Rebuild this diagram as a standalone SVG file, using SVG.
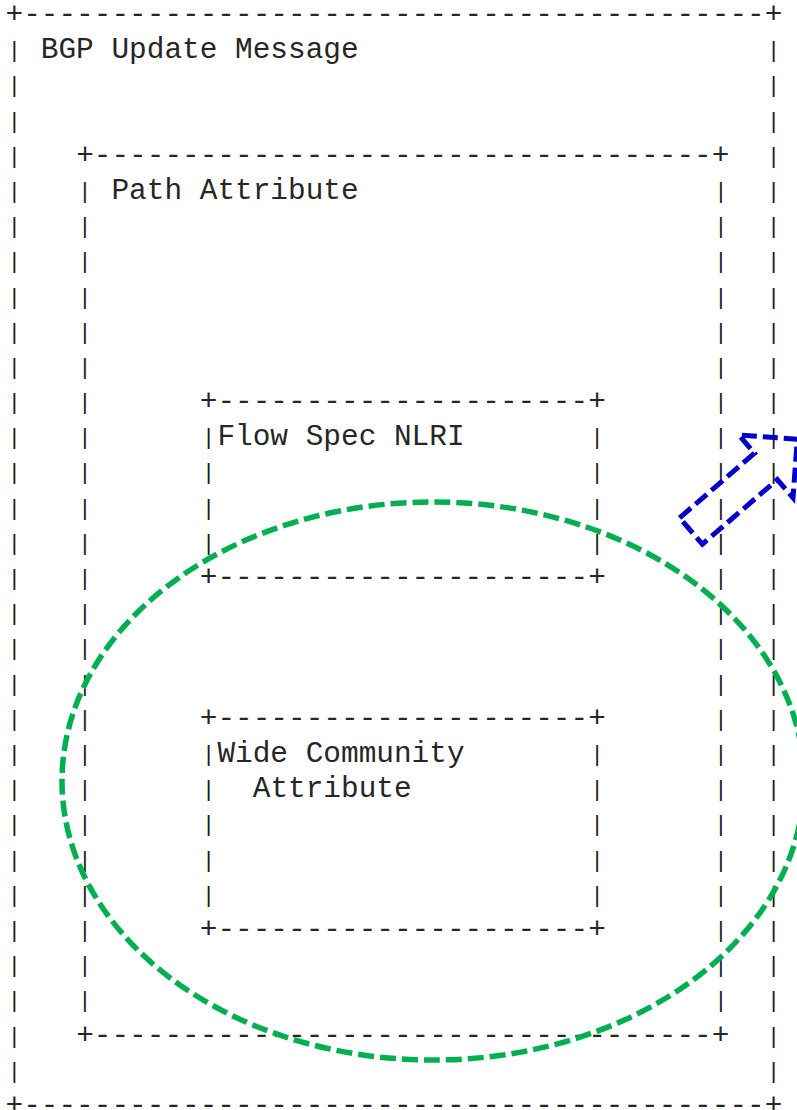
<svg xmlns="http://www.w3.org/2000/svg" width="797" height="1110" viewBox="0 0 797 1110">
  <style>
    .t { font-family: "Liberation Mono", "Courier New", monospace; font-size: 29.43px; fill: #262626; }
    .bar { font-family: "Liberation Mono", "Courier New", monospace; font-size: 22px; fill: #1a1a1a; }
    .ring { fill: none; stroke: #00b050; stroke-width: 5.5; stroke-dasharray: 16 6; }
    .arrow { fill: none; stroke: #0000cc; stroke-width: 5; stroke-dasharray: 15 6; stroke-linejoin: miter; }
  </style>
  <rect width="797" height="1110" fill="#ffffff"/>

  <!-- Outer box: columns 0..43, text rows 0..31 (17.66px cells, 35.19px rows).
       Side bars use a smaller size so each "|" is short, with gaps between rows. -->
  <g id="bgp-update-message">
    <text class="t" x="5.5" y="23.1">+------------------------------------------+</text>
    <text class="t" x="40.82" y="58.29">BGP Update Message</text>
    <text class="bar" x="7.73 7.73 7.73 7.73 7.73 7.73 7.73 7.73 7.73 7.73 7.73 7.73 7.73 7.73 7.73 7.73 7.73 7.73 7.73 7.73 7.73 7.73 7.73 7.73 7.73 7.73 7.73 7.73 7.73 7.73" y="57.19 92.38 127.57 162.76 197.95 233.14 268.33 303.52 338.71 373.9 409.09 444.28 479.47 514.66 549.85 585.04 620.23 655.42 690.61 725.8 760.99 796.18 831.37 866.56 901.75 936.94 972.13 1007.32 1042.51 1077.7">||||||||||||||||||||||||||||||</text>
    <text class="bar" x="767.11 767.11 767.11 767.11 767.11 767.11 767.11 767.11 767.11 767.11 767.11 767.11 767.11 767.11 767.11 767.11 767.11 767.11 767.11 767.11 767.11 767.11 767.11 767.11 767.11 767.11 767.11 767.11 767.11 767.11" y="57.19 92.38 127.57 162.76 197.95 233.14 268.33 303.52 338.71 373.9 409.09 444.28 479.47 514.66 549.85 585.04 620.23 655.42 690.61 725.8 760.99 796.18 831.37 866.56 901.75 936.94 972.13 1007.32 1042.51 1077.7">||||||||||||||||||||||||||||||</text>
    <text class="t" x="5.5" y="1113.5">+------------------------------------------+</text>
  </g>

  <!-- Path Attribute box: columns 4..40, rows 4..29 -->
  <g id="path-attribute">
    <text class="t" x="76.14" y="163.86">+-----------------------------------+</text>
    <text class="t" x="111.46" y="199.05">Path Attribute</text>
    <text class="bar" x="78.37 78.37 78.37 78.37 78.37 78.37 78.37 78.37 78.37 78.37 78.37 78.37 78.37 78.37 78.37 78.37 78.37 78.37 78.37 78.37 78.37 78.37 78.37 78.37" y="197.95 233.14 268.33 303.52 338.71 373.9 409.09 444.28 479.47 514.66 549.85 585.04 620.23 655.42 690.61 725.8 760.99 796.18 831.37 866.56 901.75 936.94 972.13 1007.32">||||||||||||||||||||||||</text>
    <text class="bar" x="714.13 714.13 714.13 714.13 714.13 714.13 714.13 714.13 714.13 714.13 714.13 714.13 714.13 714.13 714.13 714.13 714.13 714.13 714.13 714.13 714.13 714.13 714.13 714.13" y="197.95 233.14 268.33 303.52 338.71 373.9 409.09 444.28 479.47 514.66 549.85 585.04 620.23 655.42 690.61 725.8 760.99 796.18 831.37 866.56 901.75 936.94 972.13 1007.32">||||||||||||||||||||||||</text>
    <text class="t" x="76.14" y="1043.61">+-----------------------------------+</text>
  </g>

  <!-- Flow Spec NLRI box: columns 11..33, rows 11..16 -->
  <g id="flow-spec-nlri">
    <text class="t" x="199.76" y="410.19">+---------------------+</text>
    <text class="t" x="217.42" y="445.38">Flow Spec NLRI</text>
    <text class="bar" x="201.99 201.99 201.99 201.99" y="444.28 479.47 514.66 549.85">||||</text>
    <text class="bar" x="590.51 590.51 590.51 590.51" y="444.28 479.47 514.66 549.85">||||</text>
    <text class="t" x="199.76" y="586.14">+---------------------+</text>
  </g>

  <!-- Wide Community Attribute box: columns 11..33, rows 20..26 -->
  <g id="wide-community-attribute">
    <text class="t" x="199.76" y="726.9">+---------------------+</text>
    <text class="t" x="217.42" y="762.09">Wide Community</text>
    <text class="t" x="252.74" y="797.28">Attribute</text>
    <text class="bar" x="201.99 201.99 201.99 201.99 201.99" y="760.99 796.18 831.37 866.56 901.75">|||||</text>
    <text class="bar" x="590.51 590.51 590.51 590.51 590.51" y="760.99 796.18 831.37 866.56 901.75">|||||</text>
    <text class="t" x="199.76" y="938.04">+---------------------+</text>
  </g>

  <!-- Highlight marks drawn over the text -->
  <g id="connectors">
    <ellipse class="ring" cx="433" cy="781" rx="371" ry="279"/>
    <path class="arrow" d="M679.6,517.8 L754.5,453.2 L738.8,435 L797.3,439.3 L793,497.8 L777.3,479.6 L702.4,544.2 Z"/>
  </g>
</svg>
